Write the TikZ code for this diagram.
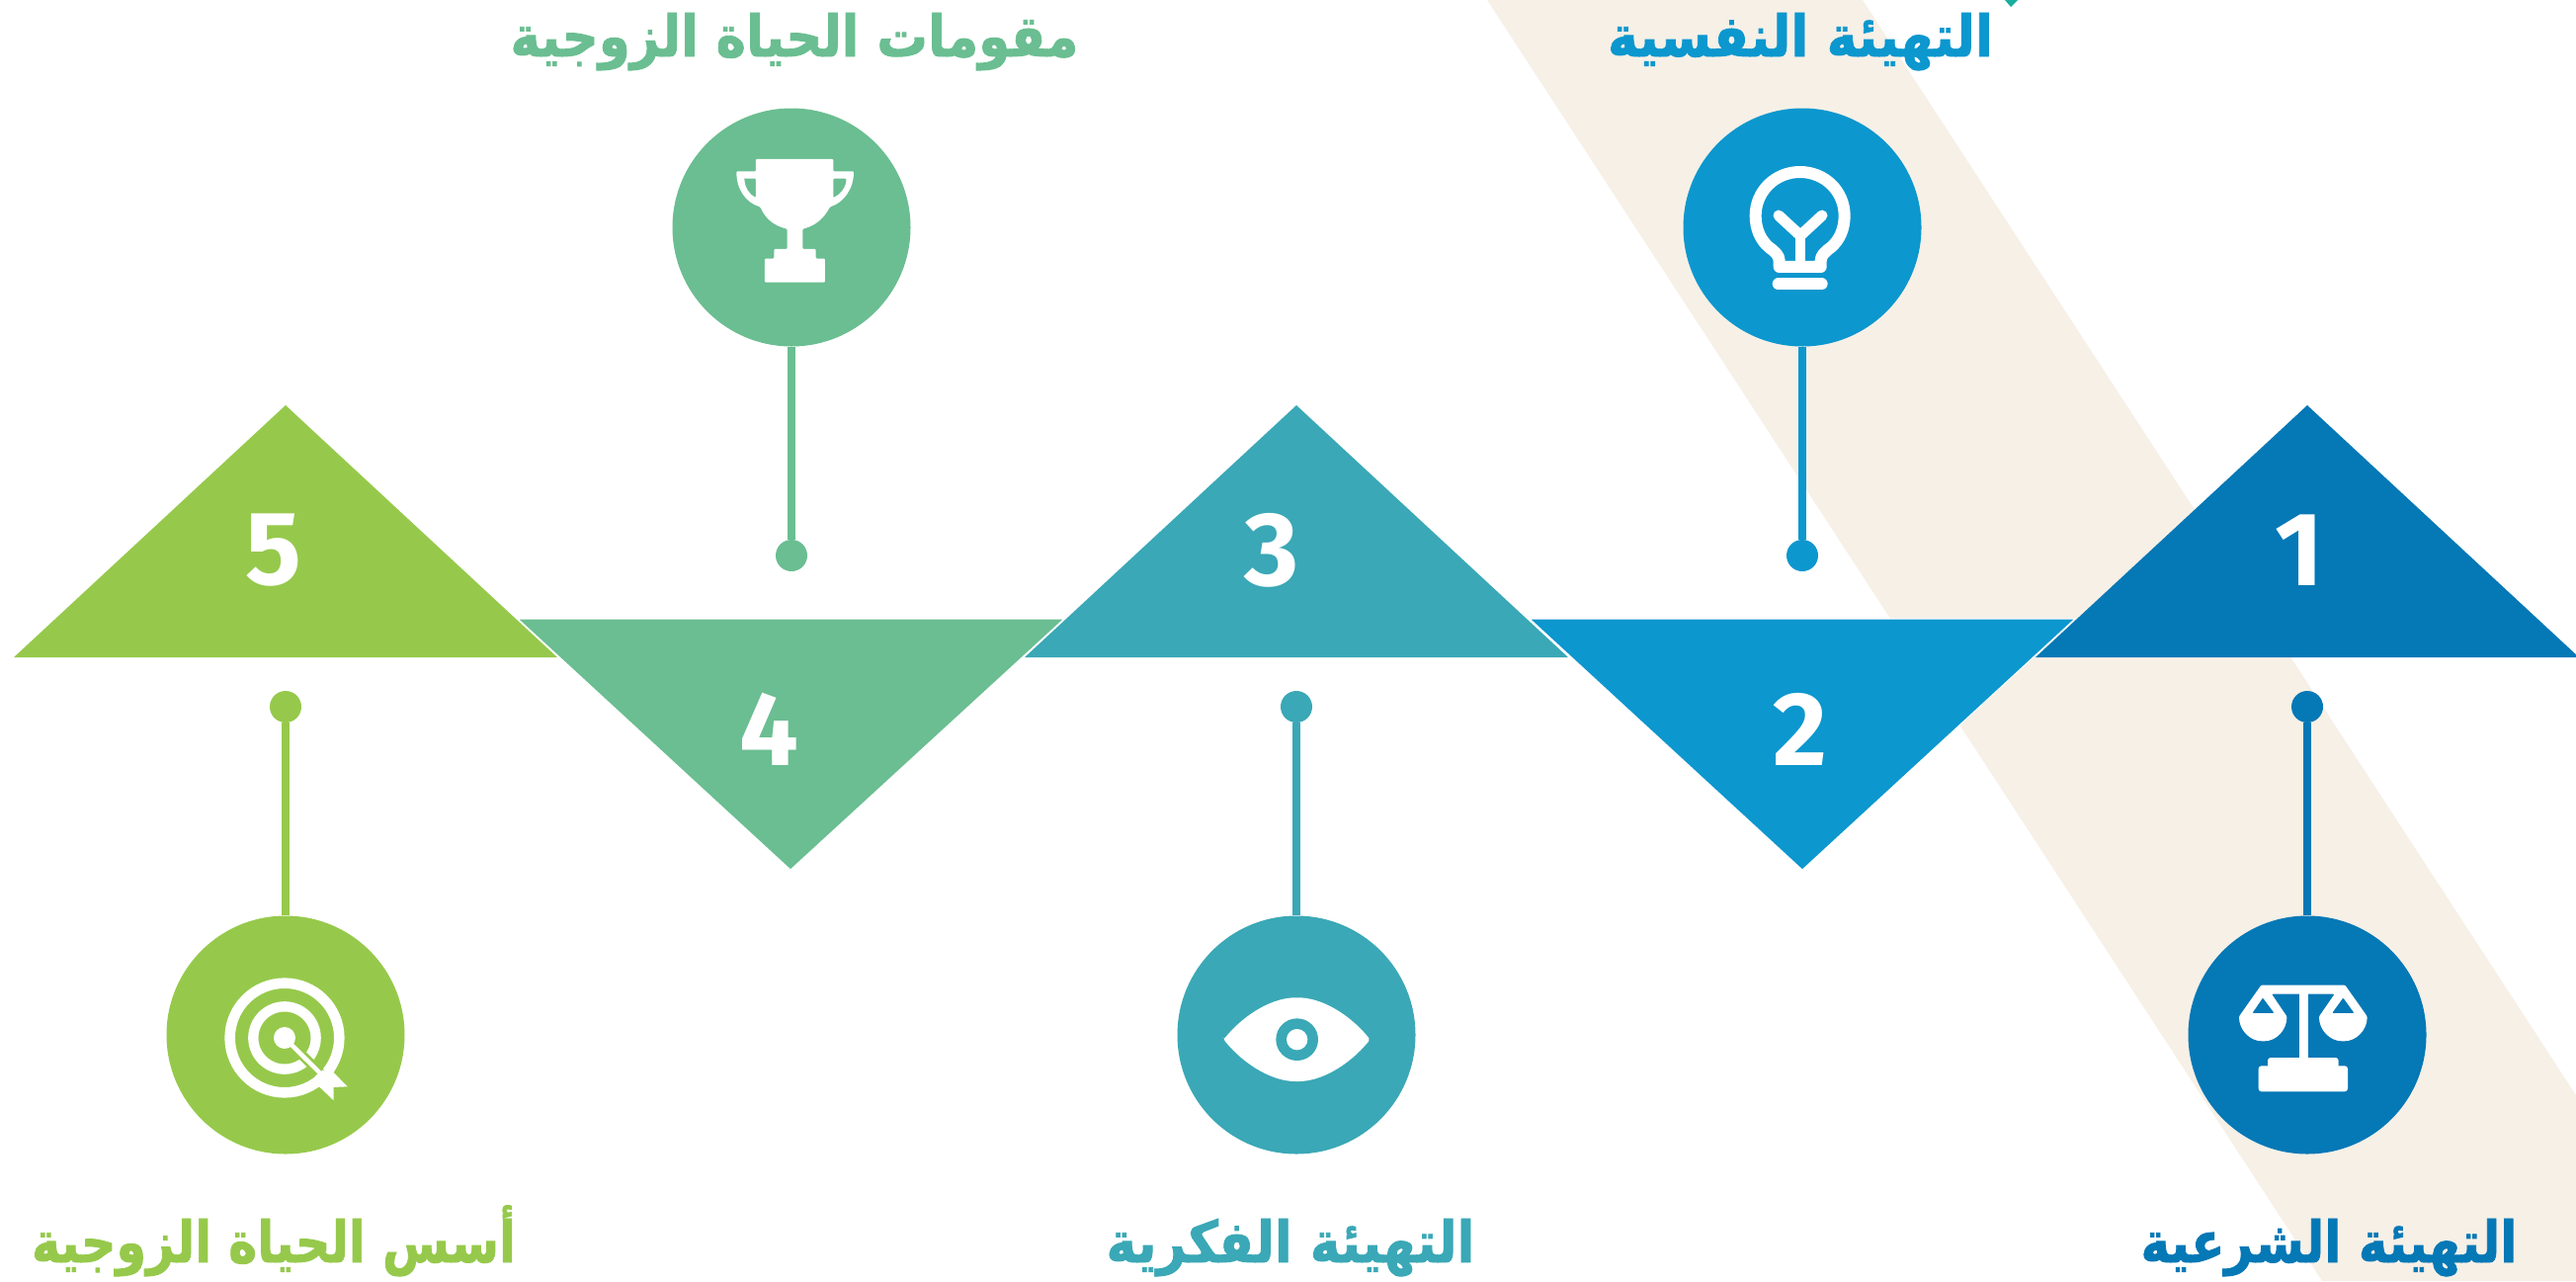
\documentclass[tikz,border=0pt]{standalone}
\usepackage{fontspec}
\usepackage{graphicx}
\TeXXeTstate=1
\newfontfamily\arabicfont[Script=Arabic,FakeBold=1.5]{DejaVu Sans Bold}
\newfontfamily\digitfont{Fira Sans}
\definecolor{colone}{HTML}{0578B6}
\definecolor{coltwo}{HTML}{0C97CE}
\definecolor{colthree}{HTML}{3AA8B6}
\definecolor{colfour}{HTML}{6ABE91}
\definecolor{colfive}{HTML}{96C94B}
\definecolor{bandcol}{HTML}{F6F0E7}
\definecolor{cornercol}{HTML}{1AAE9F}
\newcommand{\artext}[2]{\resizebox{#1}{\height}{\arabicfont #2}}
\tikzset{
    disc/.style = {circle, inner sep=0pt, minimum size=241pt},
    enddot/.style = {circle, inner sep=0pt, minimum size=32pt},
    digit/.style = {text=white, inner sep=0pt, font=\digitfont\fontsize{106}{106}\bfseries\selectfont},
    headtext/.style = {anchor=base, inner sep=0pt, font=\fontsize{58}{58}\selectfont},
    zoomed/.style 2 args = {shift={(#1,#2)}, x=0.3333pt, y=-0.3333pt},
}
\begin{document}
\begin{tikzpicture}[x=1pt, y=-1pt]
    \clip (0, 0) rectangle (2607, 1296);
    \fill[bandcol] (1505, 0) -- (1885, 0) -- (2607, 1108) -- (2607, 1296) -- (2350, 1296) -- cycle;
    \fill[cornercol] (2029, 0) -- (2042, 0) -- (2035, 7) -- cycle;

    % upright triangles
    \fill[colone] (2335, 410) -- (2610, 665) -- (2060, 665) -- cycle;
    \fill[colthree] (1312, 410) -- (1587, 665) -- (1037, 665) -- cycle;
    \fill[colfive] (289, 410) -- (564, 665) -- (14, 665) -- cycle;
    % inverted triangles
    \filldraw[coltwo, draw=white, line width=1pt] (1548, 626) -- (2100, 626) -- (1824, 880) -- cycle;
    \filldraw[colfour, draw=white, line width=1pt] (524, 626) -- (1077, 626) -- (800, 880) -- cycle;

    \node[digit] (num1) at (2327, 557) {1};
    \node[digit] (num2) at (1822, 738) {2};
    \node[digit] (num3) at (1287, 557) {3};
    \node[digit] (num4) at (778, 738) {4};
    \node[digit] (num5) at (277, 557) {5};

    \node[disc, fill=colone] (disc1) at (2335, 1047) {};
    \node[disc, fill=coltwo] (disc2) at (1824, 230) {};
    \node[disc, fill=colthree] (disc3) at (1312, 1047) {};
    \node[disc, fill=colfour] (disc4) at (801, 230) {};
    \node[disc, fill=colfive] (disc5) at (289, 1047) {};

    \node[enddot, fill=colone] (dot1) at (2335, 715) {};
    \node[enddot, fill=coltwo] (dot2) at (1824, 562) {};
    \node[enddot, fill=colthree] (dot3) at (1312, 715) {};
    \node[enddot, fill=colfour] (dot4) at (801, 562) {};
    \node[enddot, fill=colfive] (dot5) at (289, 715) {};

    \draw[colone, line width=8pt] (disc1) -- (dot1);
    \draw[coltwo, line width=8pt] (disc2) -- (dot2);
    \draw[colthree, line width=8pt] (disc3) -- (dot3);
    \draw[colfour, line width=8pt] (disc4) -- (dot4);
    \draw[colfive, line width=8pt] (disc5) -- (dot5);

    \node[headtext, text=colone] (head1) at (2357, 1277) {\artext{381pt}{\beginR التهيئة الشرعية\endR}};
    \node[headtext, text=coltwo] (head2) at (1822, 57) {\artext{390pt}{\beginR التهيئة النفسية\endR}};
    \node[headtext, text=colthree] (head3) at (1306, 1277) {\artext{373pt}{\beginR التهيئة الفكرية\endR}};
    \node[headtext, text=colfour] (head4) at (804, 57) {\artext{575pt}{\beginR مقومات الحياة الزوجية\endR}};
    \node[headtext, text=colfive] (head5) at (277, 1277) {\artext{490pt}{\beginR أسس الحياة الزوجية\endR}};

    % trophy
    \begin{scope}[zoomed={640}{90}]
        \fill[white, even odd rule, rounded corners=1pt] (375, 213) -- (610, 213) -- (610, 250) -- (672, 250)
            .. controls (672, 305) and (640, 345) .. (600, 358)
            .. controls (580, 395) and (555, 415) .. (517, 425) -- (517, 486) -- (557, 486) -- (557, 515)
            -- (585, 515) -- (585, 587) -- (402, 587) -- (402, 515) -- (430, 515) -- (430, 486) -- (470, 486) -- (470, 425)
            .. controls (430, 415) and (405, 395) .. (388, 358)
            .. controls (345, 345) and (316, 305) .. (316, 250) -- (375, 250) -- cycle
            (340, 272) -- (375, 272) -- (375, 330) .. controls (355, 320) and (342, 300) .. (340, 272) -- cycle
            (610, 272) -- (650, 272) .. controls (648, 300) and (632, 320) .. (610, 330) -- cycle;
    \end{scope}

    % bulb
    \begin{scope}[zoomed={1690}{90}]
        \draw[white, line width=12pt, line join=round] (332, 540) -- (332, 522)
            .. controls (332, 505) and (320, 495) .. (300, 480)
            .. controls (275, 458) and (260, 425) .. (260, 385)
            .. controls (260, 310) and (320, 252) .. (395, 252)
            .. controls (470, 252) and (530, 310) .. (530, 385)
            .. controls (530, 425) and (515, 458) .. (490, 480)
            .. controls (470, 495) and (458, 505) .. (458, 522) -- (458, 540) -- cycle;
        \draw[white, line width=11pt, line cap=round, line join=miter] (330, 384) -- (396, 445) -- (462, 384);
        \draw[white, line width=10.7pt] (396, 445) -- (396, 530);
        \draw[white, line width=12pt, line cap=round] (329, 592) -- (461, 592);
    \end{scope}

    % eye
    \begin{scope}[zoomed={1200}{980}]
        \fill[white, rounded corners=2pt] (115, 215) .. controls (185, 130) and (270, 88) .. (338, 88)
            .. controls (405, 88) and (490, 130) .. (560, 215)
            .. controls (490, 300) and (405, 342) .. (338, 342)
            .. controls (270, 342) and (185, 300) .. (115, 215) -- cycle;
        \fill[colthree] (338, 215) circle[radius=64];
        \fill[white] (338, 215) circle[radius=32];
    \end{scope}

    % target
    \begin{scope}[zoomed={160}{920}]
        \draw[white, line width=10.6pt] (384, 390) circle[radius=166];
        \draw[white, line width=10.3pt] (384, 390) circle[radius=95];
        \draw[colfive, line width=10pt] (405, 410) -- (510, 515);
        \fill[white] (384, 390) circle[radius=33];
        \draw[white, line width=4.5pt] (384, 390) -- (500, 505);
        \fill[white] (533, 495) -- (575, 538) -- (533, 540) -- (533, 580) -- (488, 537) -- (478, 505) -- (500, 488) -- cycle;
    \end{scope}

    % scales
    \begin{scope}[zoomed={2230}{970}]
        \fill[white, even odd rule, rounded corners=1pt] (175, 80) -- (430, 80) -- (497, 175)
            .. controls (497, 215) and (465, 250) .. (424, 250)
            .. controls (383, 250) and (351, 215) .. (351, 175) -- (398, 107)
            -- (207, 107) -- (253, 175)
            .. controls (253, 215) and (222, 250) .. (181, 250)
            .. controls (140, 250) and (108, 215) .. (108, 175) -- cycle
            (180, 118) -- (215, 165) -- (148, 165) -- cycle
            (424, 118) -- (458, 165) -- (390, 165) -- cycle;
        \fill[white] (290, 100) rectangle (317, 310);
        \fill[white, rounded corners=3pt] (195, 340) -- (195, 300) -- (410, 300) -- (410, 340) -- cycle;
        \fill[white, rounded corners=3pt] (167, 325) rectangle (438, 403);
    \end{scope}
\end{tikzpicture}
\end{document}
